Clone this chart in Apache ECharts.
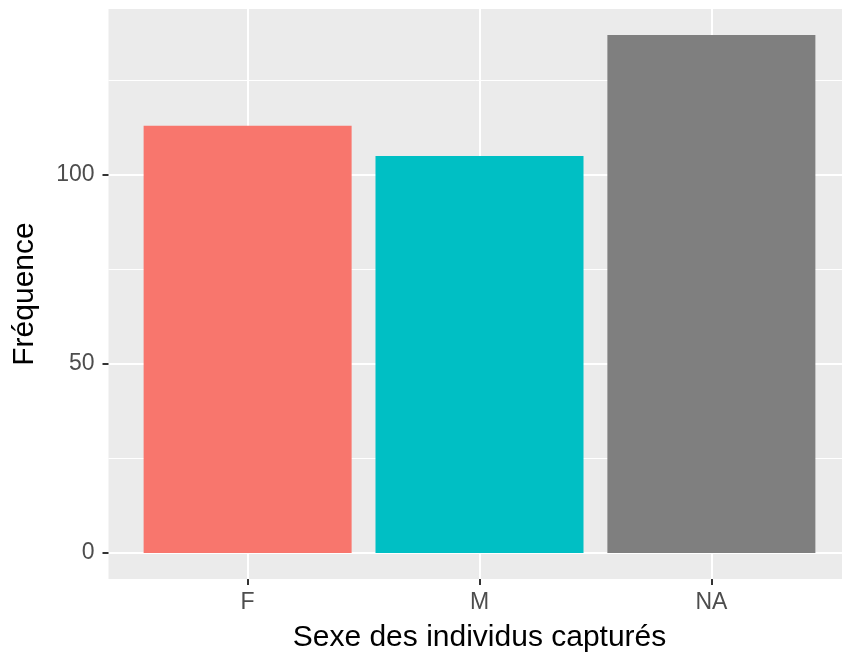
<!DOCTYPE html>
<html>
<head>
<meta charset="utf-8">
<script src="https://cdn.jsdelivr.net/npm/echarts@6/dist/echarts.min.js"></script>
<style>html,body{margin:0;padding:0;background:#fff}#c{width:842px;height:657px}</style>
</head>
<body>
<div id="c"></div>
<script>
const categories = ['F', 'M', 'NA'];
const frequencies = [113, 105, 137];
const barColors = ['#F8766D', '#00BFC4', '#7F7F7F'];
const yMajorTicks = [0, 50, 100];
const yMinorTicks = [25, 75, 125];
const xTitle = 'Sexe des individus capturés';
const yTitle = 'Fréquence';

const positions = categories.map((c, i) => i + 1);
const font = 'Liberation Sans, Arial, sans-serif';
const yMax = Math.max(...frequencies);
const yPad = yMax * 0.05;

const chart = echarts.init(document.getElementById('c'), null, {renderer: 'canvas'});
chart.setOption({
  animation: false,
  backgroundColor: '#FFFFFF',
  grid: {
    left: 108.5, top: 9, width: 742, height: 570,
    show: true, backgroundColor: '#EBEBEB', borderWidth: 0,
    containLabel: false, outerBoundsMode: 'none'
  },
  xAxis: {
    type: 'value',
    min: 0.4, max: positions.length + 0.6,
    name: xTitle, nameLocation: 'middle', nameGap: 44,
    nameTextStyle: {fontFamily: font, fontSize: 30, color: '#000000'},
    axisLine: {show: false, onZero: false},
    axisTick: {show: true, length: 6, lineStyle: {color: '#333333', width: 2}, customValues: positions},
    axisLabel: {
      customValues: positions, margin: 12,
      fontFamily: font, fontSize: 23, color: '#4D4D4D',
      formatter: v => categories[Math.round(v) - 1] || ''
    },
    splitLine: {show: true, lineStyle: {color: '#FFFFFF', width: 2}}
  },
  yAxis: [{
    type: 'value',
    min: -yPad, max: yMax + yPad,
    name: yTitle, nameLocation: 'middle', nameGap: 69, nameRotate: 90,
    nameTextStyle: {fontFamily: font, fontSize: 30, color: '#000000'},
    axisLine: {show: false, onZero: false},
    axisTick: {show: true, length: 6, lineStyle: {color: '#333333', width: 2}, customValues: yMajorTicks},
    axisLabel: {customValues: yMajorTicks, margin: 14, fontFamily: font, fontSize: 23, color: '#4D4D4D'},
    splitLine: {show: true, lineStyle: {color: '#FFFFFF', width: 2}}
  }, {
    type: 'value',
    position: 'left',
    min: -yPad, max: yMax + yPad,
    axisLine: {show: false, onZero: false},
    axisTick: {show: false, customValues: yMinorTicks},
    axisLabel: {show: false, customValues: yMinorTicks},
    splitLine: {show: true, lineStyle: {color: '#FFFFFF', width: 1}}
  }],
  series: [{
    type: 'bar',
    yAxisIndex: 0,
    barWidth: 208,
    data: frequencies.map((v, i) => ({value: [positions[i], v], itemStyle: {color: barColors[i]}}))
  }]
});
</script>
</body>
</html>
